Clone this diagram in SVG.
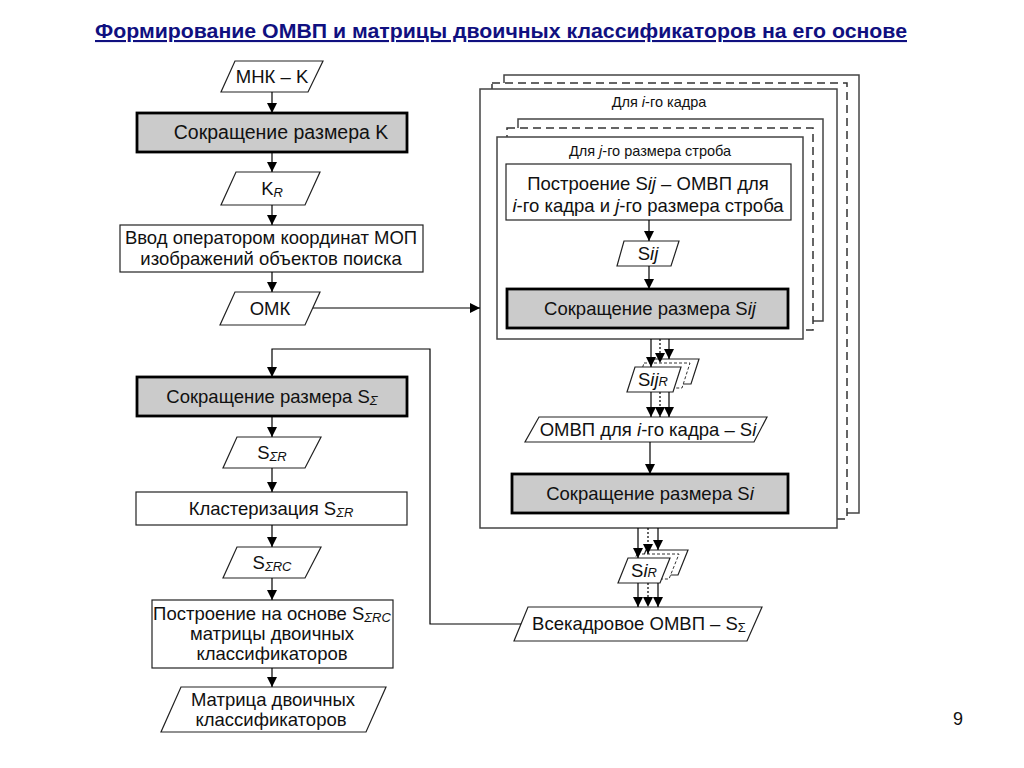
<svg xmlns="http://www.w3.org/2000/svg" width="1024" height="768" viewBox="0 0 1024 768">
<defs>
<marker id="ah" viewBox="0 0 10 10" refX="10" refY="5" markerWidth="10" markerHeight="10" markerUnits="userSpaceOnUse" orient="auto">
<path d="M0,0 L10,5 L0,10 z" fill="#000"/>
</marker>
</defs>
<style>
text{font-family:"Liberation Sans",Arial,sans-serif;fill:#111;}
.t{font-size:18.5px;text-anchor:middle;}
.s{font-size:14.5px;text-anchor:middle;}
.i{font-style:italic;}
.sub{font-style:italic;font-size:13px;}
.box{fill:#fff;stroke:#222;stroke-width:1.2;}
.gbox{fill:#cbcbcb;stroke:#000;stroke-width:2.8;}
.frm{fill:#fff;stroke:#444;stroke-width:1.5;}
.dfrm{fill:#fff;stroke:#333;stroke-width:1.5;stroke-dasharray:8,5;}
.par{fill:#fff;stroke:#222;stroke-width:1.2;}
.dpar{fill:#fff;stroke:#333;stroke-width:1;stroke-dasharray:3,2;}
.ln{fill:none;stroke:#000;stroke-width:1.2;}
.ar{fill:none;stroke:#000;stroke-width:1.2;marker-end:url(#ah);}
.dar{fill:none;stroke:#000;stroke-width:1.2;stroke-dasharray:2,2;marker-end:url(#ah);}
</style>
<rect width="1024" height="768" fill="#fff"/>
<text x="95" y="38" textLength="812" lengthAdjust="spacingAndGlyphs" style="font-size:21px;font-weight:bold;fill:#101080;text-decoration:underline;">Формирование ОМВП и матрицы двоичных классификаторов на его основе</text>
<text x="958" y="725" style="font-size:18px;text-anchor:middle;">9</text>

<g id="frame-i">
<rect class="frm" x="504" y="75" width="355" height="438"/>
<rect class="dfrm" x="492" y="83" width="355" height="436"/>
<rect class="frm" x="480" y="89" width="357" height="439"/>
<text class="s" x="659" y="107">Для <tspan class="i">i</tspan>-го кадра</text>
</g>
<g id="frame-j">
<rect class="frm" x="518" y="119" width="305" height="202"/>
<rect class="dfrm" x="507" y="128" width="306" height="202"/>
<rect class="frm" x="497" y="137" width="306" height="202"/>
<text class="s" x="650" y="156">Для <tspan class="i">j</tspan>-го размера строба</text>
</g>

<g id="n-mnk"><polygon class="par" points="235,61 323,61 308,92 221,92"/><text class="t" x="272" y="83">МНК – K</text></g>
<g id="n-redK"><rect class="gbox" x="137" y="113" width="270" height="39"/><text class="t" x="281" y="139" style="font-size:19.5px">Сокращение размера K</text></g>
<g id="n-KR"><polygon class="par" points="236,172 320,172 305,205 221,205"/><text class="t" x="272" y="195">K<tspan class="sub" dy="2">R</tspan></text></g>
<g id="n-vvod"><rect class="box" x="120" y="225" width="303" height="47"/><text class="t" x="271" y="244">Ввод оператором координат МОП</text><text class="t" x="271" y="265">изображений объектов поиска</text></g>
<g id="n-omk"><polygon class="par" points="235,292 320,292 305,325 220,325"/><text class="t" x="270" y="315">ОМК</text></g>

<g id="n-redSsum"><rect class="gbox" x="137" y="377" width="270" height="39"/><text class="t" x="272" y="403">Сокращение размера S<tspan class="sub" dy="2">Σ</tspan></text></g>
<g id="n-SsR"><polygon class="par" points="237,437 321,437 305,468 223,468"/><text class="t" x="272" y="459">S<tspan class="sub" dy="2">ΣR</tspan></text></g>
<g id="n-clust"><rect class="box" x="136" y="492" width="271" height="33"/><text class="t" x="271" y="515">Кластеризация S<tspan class="sub" dy="2">ΣR</tspan></text></g>
<g id="n-SsRC"><polygon class="par" points="237,547 321,547 305,578 223,578"/><text class="t" x="272" y="569">S<tspan class="sub" dy="2">ΣRC</tspan></text></g>
<g id="n-build"><rect class="box" x="152" y="600" width="241" height="68"/><text class="t" x="272" y="620">Построение на основе S<tspan class="sub" dy="2">ΣRC</tspan></text><text class="t" x="272" y="640">матрицы двоичных</text><text class="t" x="272" y="660">классификаторов</text></g>
<g id="n-matrix"><polygon class="par" points="181,687 386,687 366,732 161,732"/><text class="t" x="273" y="706">Матрица двоичных</text><text class="t" x="271" y="726">классификаторов</text></g>

<g id="n-buildSij"><rect class="box" x="506" y="164" width="285" height="56"/><text class="t" x="648" y="190">Построение S<tspan class="i">ij</tspan> – ОМВП для</text><text class="t" x="648" y="212"><tspan class="i">i</tspan>-го кадра и <tspan class="i">j</tspan>-го размера строба</text></g>
<g id="n-Sij"><polygon class="par" points="624,241 679,241 671,266 617,266"/><text class="t" x="648" y="260">S<tspan class="i">ij</tspan></text></g>
<g id="n-redSij"><rect class="gbox" x="507" y="289" width="281" height="39"/><text class="t" x="650" y="315">Сокращение размера S<tspan class="i">ij</tspan></text></g>
<g id="n-SijR">
<polygon class="par" points="653,359 699,359 691,384 645,384"/>
<polygon class="dpar" points="644,363 690,363 682,388 636,388"/>
<polygon class="par" points="635,367 681,367 673,392 627,392"/>
<text class="t" x="653" y="386">S<tspan class="i">ij</tspan><tspan class="sub">R</tspan></text>
</g>
<g id="n-Si"><polygon class="par" points="539,417 767,417 754,442 525,442"/><text class="t" x="648" y="436">ОМВП для <tspan class="i">i</tspan>-го кадра – S<tspan class="i">i</tspan></text></g>
<g id="n-redSi"><rect class="gbox" x="512" y="474" width="276" height="39"/><text class="t" x="650" y="500">Сокращение размера S<tspan class="i">i</tspan></text></g>
<g id="n-SiR">
<polygon class="par" points="646,550 688,550 678,575 636,575"/>
<polygon class="dpar" points="637,554 679,554 669,579 627,579"/>
<polygon class="par" points="628,558 670,558 660,583 618,583"/>
<text class="t" x="644" y="577">S<tspan class="i">i</tspan><tspan class="sub">R</tspan></text>
</g>
<g id="n-Ssum"><polygon class="par" points="528,607 762,607 747,641 514,641"/><text class="t" x="639" y="630">Всекадровое ОМВП – S<tspan style="font-size:13px" dy="2">Σ</tspan></text></g>

<g id="connectors">
<line class="ar" x1="272" y1="92" x2="272" y2="113"/>
<line class="ar" x1="272" y1="152" x2="272" y2="172"/>
<line class="ar" x1="272" y1="205" x2="272" y2="225"/>
<line class="ar" x1="272" y1="272" x2="272" y2="292"/>
<line class="ar" x1="313" y1="308" x2="480" y2="308"/>
<polyline class="ar" points="521,624 430,624 430,349 272,349 272,377"/>
<line class="ar" x1="272" y1="416" x2="272" y2="437"/>
<line class="ar" x1="272" y1="468" x2="272" y2="492"/>
<line class="ar" x1="272" y1="525" x2="272" y2="547"/>
<line class="ar" x1="272" y1="578" x2="272" y2="600"/>
<line class="ar" x1="272" y1="668" x2="272" y2="687"/>
<line class="ar" x1="649" y1="220" x2="649" y2="241"/>
<line class="ar" x1="649" y1="266" x2="649" y2="289"/>
<line class="ar" x1="651" y1="339" x2="651" y2="367"/>
<line class="dar" x1="660" y1="339" x2="660" y2="363"/>
<line class="ar" x1="669" y1="339" x2="669" y2="359"/>
<line class="ar" x1="651" y1="392" x2="651" y2="417"/>
<line class="dar" x1="660" y1="392" x2="660" y2="417"/>
<line class="ar" x1="669" y1="392" x2="669" y2="417"/>
<line class="ar" x1="650" y1="442" x2="650" y2="474"/>
<line class="ar" x1="638" y1="528" x2="638" y2="558"/>
<line class="dar" x1="648" y1="528" x2="648" y2="554"/>
<line class="ar" x1="658" y1="528" x2="658" y2="550"/>
<line class="ar" x1="638" y1="583" x2="638" y2="607"/>
<line class="dar" x1="648" y1="583" x2="648" y2="607"/>
<line class="ar" x1="658" y1="583" x2="658" y2="607"/>
</g>
</svg>
